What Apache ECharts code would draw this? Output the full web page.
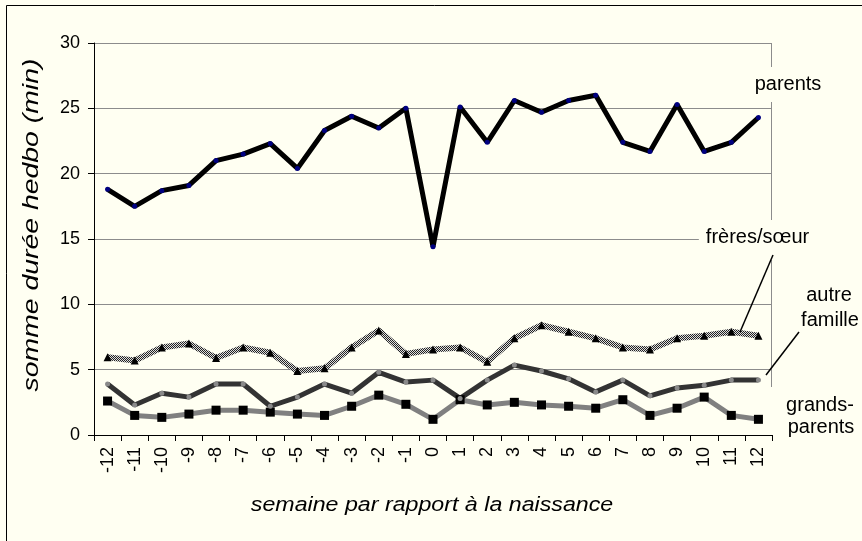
<!DOCTYPE html>
<html>
<head>
<meta charset="utf-8">
<script src="https://cdn.jsdelivr.net/npm/echarts@6/dist/echarts.min.js"></script>
<style>
  html, body { margin: 0; padding: 0; background: #FFFFF2; }
  #chart { width: 862px; height: 541px; }
</style>
</head>
<body>
<div id="chart"></div>
<script>
// semaines -12 .. 12
var weeks = ['-12', '-11', '-10', '-9', '-8', '-7', '-6', '-5', '-4', '-3', '-2', '-1', '0',
  '1', '2', '3', '4', '5', '6', '7', '8', '9', '10', '11', '12']

var parents = [18.8, 17.5, 18.7, 19.1, 21.0, 21.5, 22.3, 20.4, 23.3, 24.4, 23.5, 25.0, 14.4,
  25.1, 22.4, 25.6, 24.7, 25.6, 26.0, 22.4, 21.7, 25.3, 21.7, 22.4, 24.3]
var freresSoeur = [5.95, 5.7, 6.7, 7.0, 5.9, 6.7, 6.3, 4.9, 5.1, 6.7, 8.0, 6.2, 6.55,
  6.7, 5.6, 7.4, 8.4, 7.9, 7.4, 6.7, 6.55, 7.4, 7.6, 7.9, 7.6]
var autreFamille = [3.9, 2.3, 3.2, 2.9, 3.9, 3.9, 2.2, 2.9, 3.9, 3.2, 4.8, 4.05, 4.2,
  2.8, 4.2, 5.35, 4.9, 4.3, 3.3, 4.2, 3.0, 3.6, 3.8, 4.2, 4.2]
var grandsParents = [2.6, 1.5, 1.35, 1.6, 1.9, 1.9, 1.75, 1.6, 1.5, 2.2, 3.05, 2.35, 1.2,
  2.7, 2.3, 2.5, 2.3, 2.2, 2.05, 2.7, 1.5, 2.05, 2.9, 1.5, 1.2]

var yTicks = { min: 0, max: 30, interval: 5 }

var FONT = '"Liberation Sans", Arial, sans-serif'
var BG = '#FFFFF2'

// motif tramé pour la ligne frères/soeur
function hatch () {
  var c = document.createElement('canvas')
  c.width = 2
  c.height = 2
  var ctx = c.getContext('2d')
  ctx.fillStyle = '#dedede'
  ctx.fillRect(0, 0, 2, 2)
  ctx.fillStyle = '#222'
  ctx.fillRect(0, 0, 1, 1)
  ctx.fillRect(1, 1, 1, 1)
  return c
}

function label (text, x, y, extra) {
  var s = {
    text: text, x: x, y: y,
    fill: '#000',
    font: '20px ' + FONT,
    align: 'center',
    verticalAlign: 'middle'
  }
  for (var k in extra) s[k] = extra[k]
  return { type: 'text', z: 100, style: s }
}

// titre d'axe, étiré comme dans l'original (texte espacé)
function title (text, x, y, size, stretch, rot) {
  return {
    type: 'text', z: 100,
    x: x, y: y,
    rotation: rot,
    scaleX: stretch,
    style: {
      text: text, x: 0, y: 0,
      fill: '#000',
      font: 'italic ' + size + 'px ' + FONT,
      align: 'center',
      verticalAlign: 'middle'
    }
  }
}

function seg (x1, y1, x2, y2, color, w) {
  return {
    type: 'line', z: 90,
    shape: { x1: x1, y1: y1, x2: x2, y2: y2 },
    style: { stroke: color, lineWidth: w }
  }
}

var chart = echarts.init(document.getElementById('chart'))
chart.setOption({
  backgroundColor: BG,
  animation: false,
  grid: {
    left: 94,
    right: 90,
    top: 43,
    bottom: 106
  },
  xAxis: {
    type: 'category',
    data: weeks,
    boundaryGap: true,
    axisLine: { lineStyle: { color: '#000', width: 1 } },
    axisTick: { show: true, length: 6, lineStyle: { color: '#000' } },
    axisLabel: {
      rotate: 90,
      margin: 12,
      interval: 0,
      fontFamily: FONT,
      fontSize: 18,
      color: '#000'
    },
    splitLine: { show: false }
  },
  yAxis: {
    type: 'value',
    min: yTicks.min,
    max: yTicks.max,
    interval: yTicks.interval,
    axisLine: { show: true, lineStyle: { color: '#000', width: 1 } },
    axisTick: { show: true, length: 6, lineStyle: { color: '#000' } },
    axisLabel: {
      margin: 14,
      fontFamily: FONT,
      fontSize: 18,
      color: '#000'
    },
    splitLine: { show: true, lineStyle: { color: '#8c8c8c', width: 1 } }
  },
  series: [
    {
      name: 'grands-parents',
      type: 'line',
      data: grandsParents,
      symbol: 'rect',
      symbolSize: 9,
      lineStyle: { color: '#808080', width: 5 },
      itemStyle: { color: '#000', borderWidth: 0 }
    },
    {
      name: 'autre famille',
      type: 'line',
      data: autreFamille,
      symbol: 'circle',
      symbolSize: 5,
      lineStyle: { color: '#333', width: 5 },
      itemStyle: { color: '#8a8a8a', borderWidth: 0 }
    },
    {
      name: 'frères/sœur',
      type: 'line',
      data: freresSoeur,
      symbol: 'triangle',
      symbolSize: 8,
      lineStyle: { color: { image: hatch(), repeat: 'repeat' }, width: 6 },
      itemStyle: { color: '#000', borderWidth: 0 }
    },
    {
      name: 'parents',
      type: 'line',
      data: parents,
      symbol: 'circle',
      symbolSize: 5,
      lineStyle: { color: '#000', width: 5 },
      itemStyle: { color: '#000080', borderWidth: 0 }
    }
  ],
  graphic: [
    // cadre extérieur
    {
      type: 'rect', z: 80,
      shape: { x: 6.5, y: 5.5, width: 900, height: 600 },
      style: { fill: null, stroke: '#000', lineWidth: 1 }
    },
    // bord droit de la zone de tracé, interrompu par les étiquettes
    seg(771.5, 43, 771.5, 67, '#8c8c8c', 1),
    seg(771.5, 102, 771.5, 220, '#8c8c8c', 1),
    seg(771.5, 260, 771.5, 387, '#8c8c8c', 1),
    // traits de rappel
    seg(773, 255, 740, 332, '#000', 1.5),
    seg(799, 332, 766, 375, '#000', 1.5),
    label('parents', 788, 84),
    label('frères/sœur', 756, 237, { backgroundColor: BG, padding: [3, 4, 3, 7] }),
    label('autre', 829, 295),
    label('famille', 830, 320),
    label('grands-', 820, 405),
    label('parents', 821, 427),
    title('semaine par rapport à la naissance', 432, 505, 20, 1.16, 0),
    title('somme durée hedbo (min)', 32, 225, 22, 1.29, Math.PI / 2)
  ]
})
</script>
</body>
</html>
